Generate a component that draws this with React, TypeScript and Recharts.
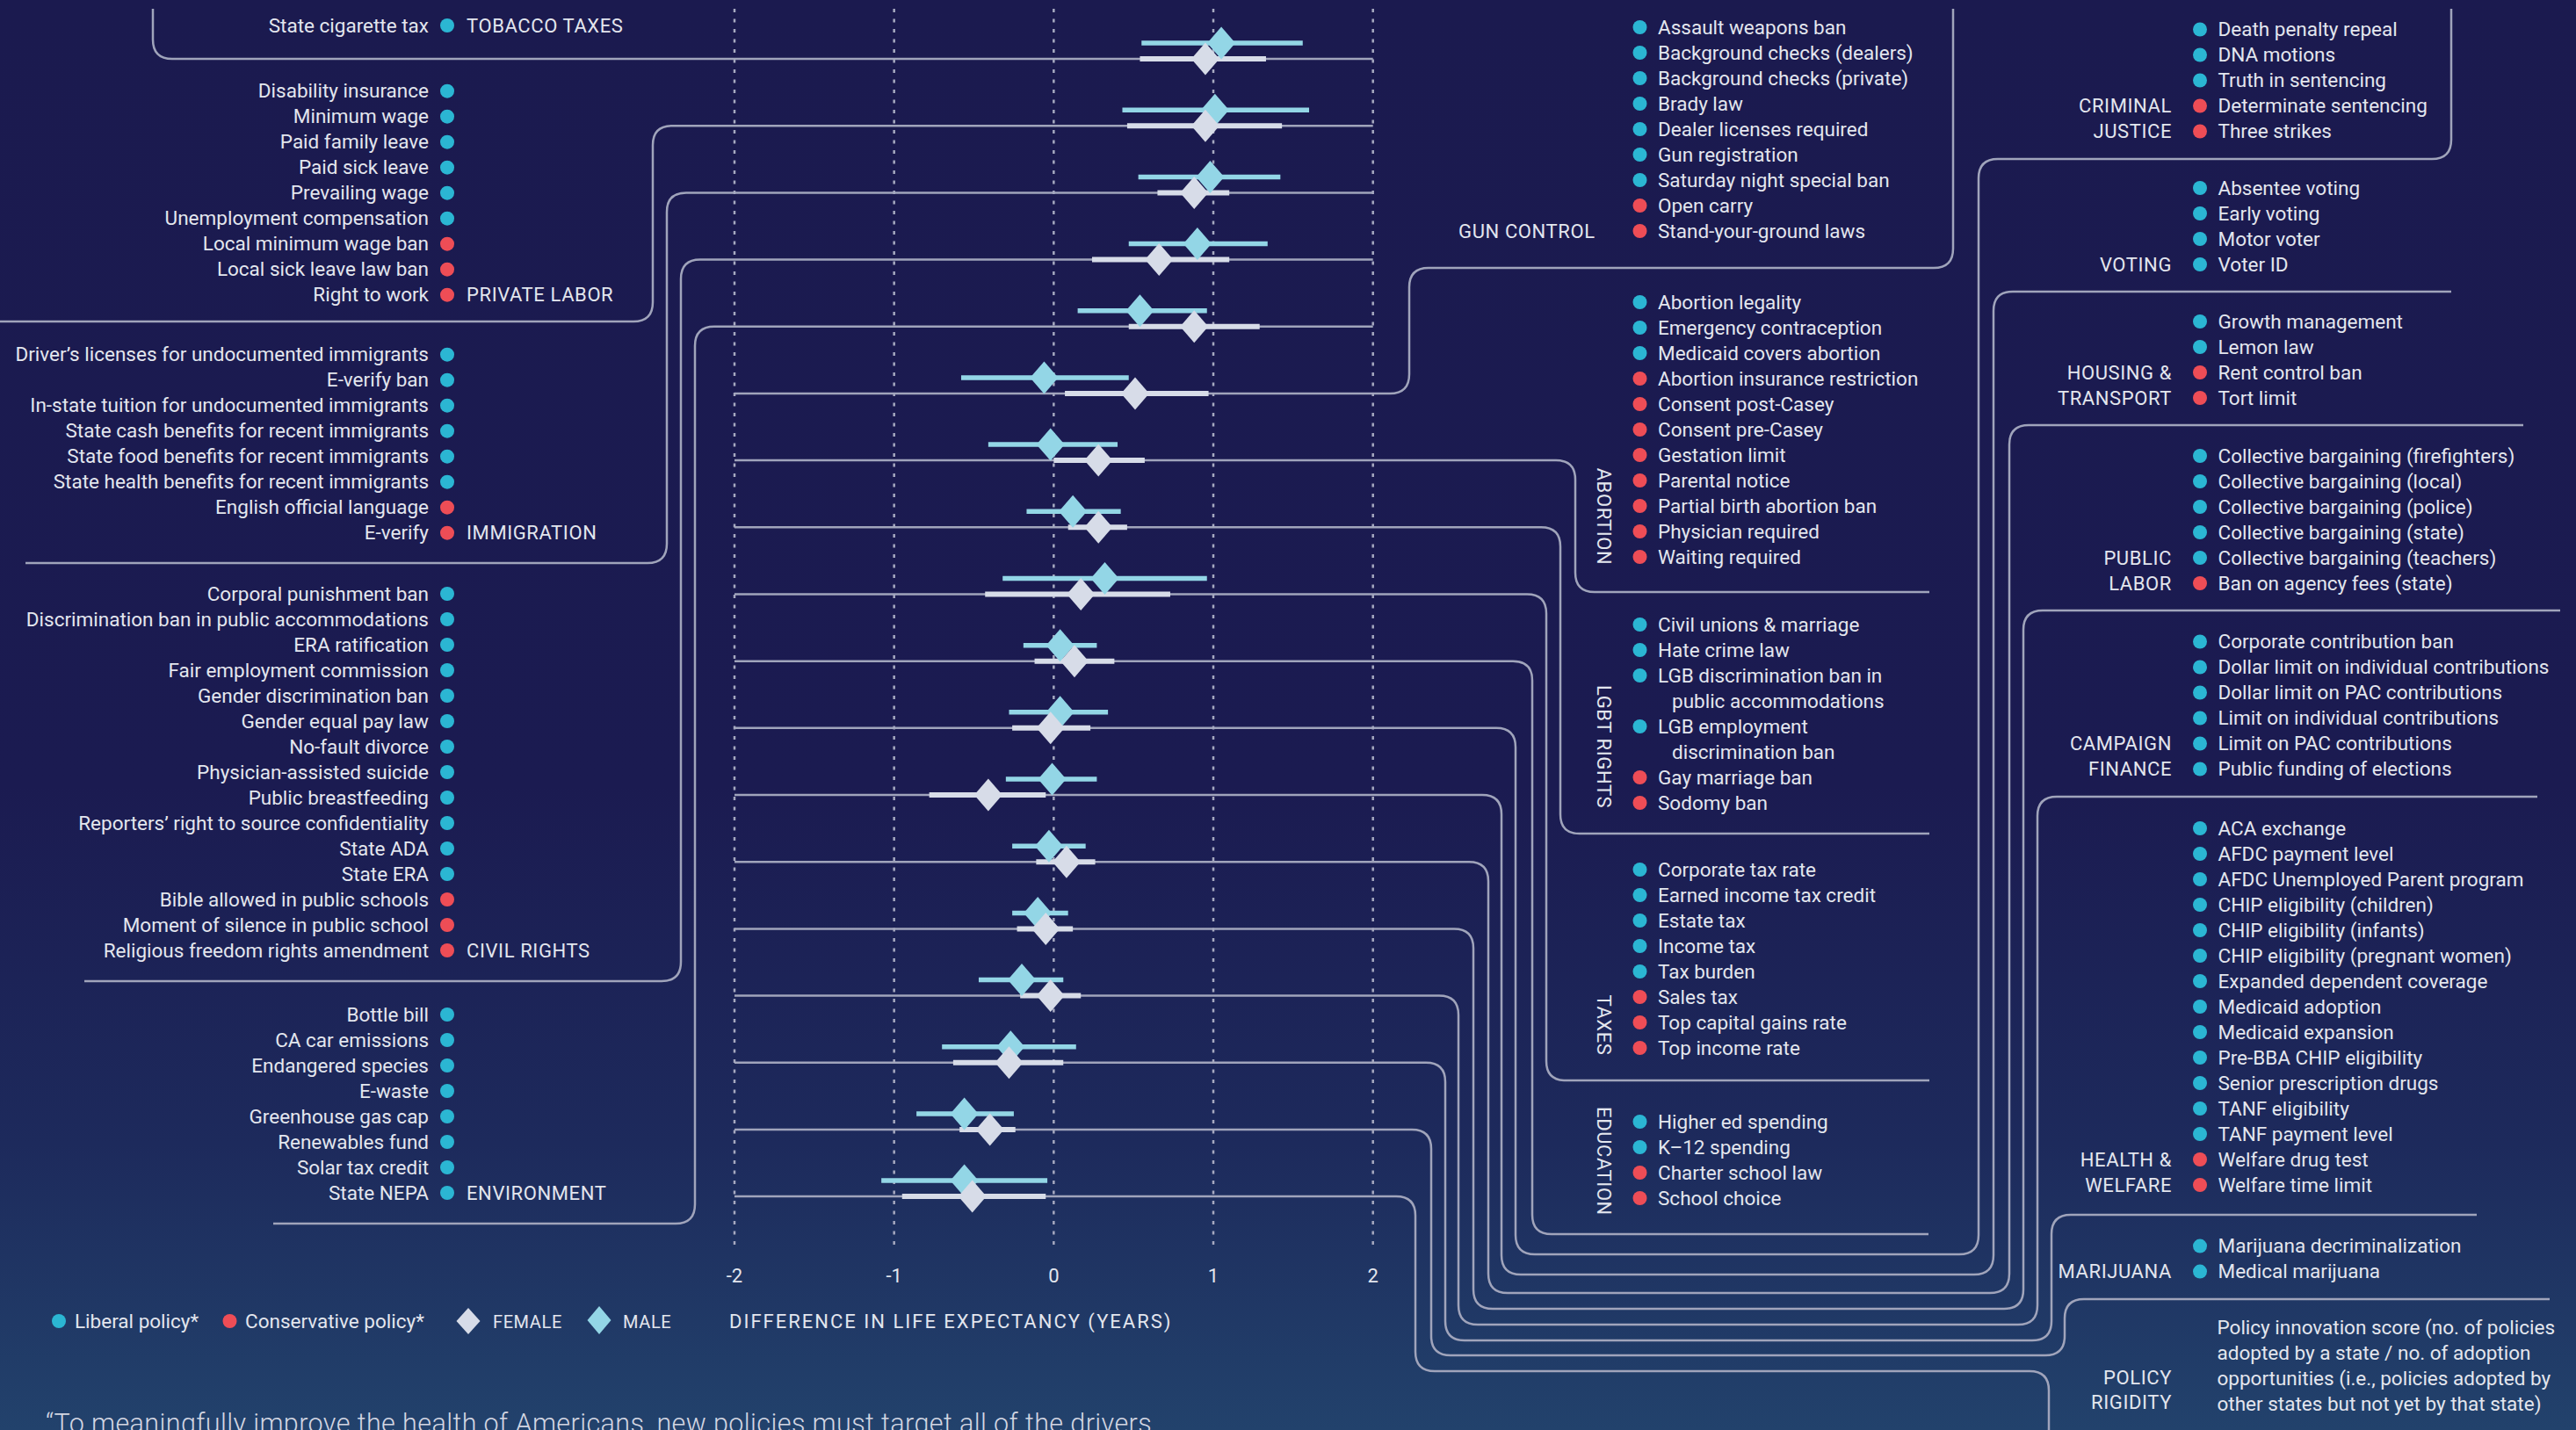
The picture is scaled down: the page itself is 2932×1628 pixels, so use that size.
import React from 'react';
import { ScatterChart, Scatter, XAxis, YAxis, CartesianGrid, ErrorBar } from 'recharts';

// ---------------- data ----------------
const CATEGORIES = [
  'Tobacco taxes', 'Private labor', 'Immigration', 'Civil rights', 'Environment',
  'Gun control', 'Abortion', 'LGBT rights', 'Taxes', 'Education',
  'Criminal justice', 'Voting', 'Housing & transport', 'Public labor', 'Campaign finance',
  'Health & welfare', 'Marijuana', 'Policy rigidity',
];
const MALE_EST = [1.05, 1.01, 0.98, 0.9, 0.54, -0.06, -0.02, 0.12, 0.32, 0.04, 0.04, -0.01, -0.03, -0.1, -0.2, -0.27, -0.56, -0.56];
const MALE_LO = [0.55, 0.43, 0.53, 0.47, 0.15, -0.58, -0.41, -0.17, -0.32, -0.19, -0.28, -0.3, -0.26, -0.26, -0.47, -0.7, -0.86, -1.08];
const MALE_HI = [1.56, 1.6, 1.42, 1.34, 0.96, 0.47, 0.4, 0.42, 0.96, 0.27, 0.34, 0.27, 0.2, 0.09, 0.06, 0.14, -0.25, -0.04];
const FEMALE_EST = [0.95, 0.95, 0.88, 0.66, 0.88, 0.51, 0.28, 0.28, 0.17, 0.13, -0.02, -0.41, 0.08, -0.05, -0.02, -0.28, -0.4, -0.51];
const FEMALE_LO = [0.54, 0.46, 0.65, 0.24, 0.47, 0.07, 0.0, 0.09, -0.43, -0.12, -0.26, -0.78, -0.11, -0.23, -0.21, -0.63, -0.59, -0.95];
const FEMALE_HI = [1.33, 1.43, 1.1, 1.1, 1.29, 0.97, 0.57, 0.46, 0.73, 0.38, 0.23, -0.05, 0.26, 0.12, 0.17, 0.06, -0.24, -0.05];
const X_TICKS = [-2, -1, 0, 1, 2];
const X_DOMAIN = [-2, 2];

// policy lists: [label, 'L' liberal | 'C' conservative]; '\n' = wrapped line
const TOBACCO = [['State cigarette tax', 'L']];
const PRIVATE_LABOR = [
  ['Disability insurance', 'L'], ['Minimum wage', 'L'], ['Paid family leave', 'L'], ['Paid sick leave', 'L'],
  ['Prevailing wage', 'L'], ['Unemployment compensation', 'L'], ['Local minimum wage ban', 'C'],
  ['Local sick leave law ban', 'C'], ['Right to work', 'C'],
];
const IMMIGRATION = [
  ['Driver\u2019s licenses for undocumented immigrants', 'L'], ['E-verify ban', 'L'],
  ['In-state tuition for undocumented immigrants', 'L'], ['State cash benefits for recent immigrants', 'L'],
  ['State food benefits for recent immigrants', 'L'], ['State health benefits for recent immigrants', 'L'],
  ['English official language', 'C'], ['E-verify', 'C'],
];
const CIVIL_RIGHTS = [
  ['Corporal punishment ban', 'L'], ['Discrimination ban in public accommodations', 'L'], ['ERA ratification', 'L'],
  ['Fair employment commission', 'L'], ['Gender discrimination ban', 'L'], ['Gender equal pay law', 'L'],
  ['No-fault divorce', 'L'], ['Physician-assisted suicide', 'L'], ['Public breastfeeding', 'L'],
  ['Reporters\u2019 right to source confidentiality', 'L'], ['State ADA', 'L'], ['State ERA', 'L'],
  ['Bible allowed in public schools', 'C'], ['Moment of silence in public school', 'C'],
  ['Religious freedom rights amendment', 'C'],
];
const ENVIRONMENT = [
  ['Bottle bill', 'L'], ['CA car emissions', 'L'], ['Endangered species', 'L'], ['E-waste', 'L'],
  ['Greenhouse gas cap', 'L'], ['Renewables fund', 'L'], ['Solar tax credit', 'L'], ['State NEPA', 'L'],
];
const GUN_CONTROL = [
  ['Assault weapons ban', 'L'], ['Background checks (dealers)', 'L'], ['Background checks (private)', 'L'],
  ['Brady law', 'L'], ['Dealer licenses required', 'L'], ['Gun registration', 'L'],
  ['Saturday night special ban', 'L'], ['Open carry', 'C'], ['Stand-your-ground laws', 'C'],
];
const ABORTION = [
  ['Abortion legality', 'L'], ['Emergency contraception', 'L'], ['Medicaid covers abortion', 'L'],
  ['Abortion insurance restriction', 'C'], ['Consent post-Casey', 'C'], ['Consent pre-Casey', 'C'],
  ['Gestation limit', 'C'], ['Parental notice', 'C'], ['Partial birth abortion ban', 'C'],
  ['Physician required', 'C'], ['Waiting required', 'C'],
];
const LGBT = [
  ['Civil unions & marriage', 'L'], ['Hate crime law', 'L'],
  ['LGB discrimination ban in\npublic accommodations', 'L'], ['LGB employment\ndiscrimination ban', 'L'],
  ['Gay marriage ban', 'C'], ['Sodomy ban', 'C'],
];
const TAXES = [
  ['Corporate tax rate', 'L'], ['Earned income tax credit', 'L'], ['Estate tax', 'L'], ['Income tax', 'L'],
  ['Tax burden', 'L'], ['Sales tax', 'C'], ['Top capital gains rate', 'C'], ['Top income rate', 'C'],
];
const EDUCATION = [
  ['Higher ed spending', 'L'], ['K\u201312 spending', 'L'], ['Charter school law', 'C'], ['School choice', 'C'],
];
const CRIMINAL_JUSTICE = [
  ['Death penalty repeal', 'L'], ['DNA motions', 'L'], ['Truth in sentencing', 'L'],
  ['Determinate sentencing', 'C'], ['Three strikes', 'C'],
];
const VOTING = [['Absentee voting', 'L'], ['Early voting', 'L'], ['Motor voter', 'L'], ['Voter ID', 'L']];
const HOUSING = [['Growth management', 'L'], ['Lemon law', 'L'], ['Rent control ban', 'C'], ['Tort limit', 'C']];
const PUBLIC_LABOR = [
  ['Collective bargaining (firefighters)', 'L'], ['Collective bargaining (local)', 'L'],
  ['Collective bargaining (police)', 'L'], ['Collective bargaining (state)', 'L'],
  ['Collective bargaining (teachers)', 'L'], ['Ban on agency fees (state)', 'C'],
];
const CAMPAIGN_FINANCE = [
  ['Corporate contribution ban', 'L'], ['Dollar limit on individual contributions', 'L'],
  ['Dollar limit on PAC contributions', 'L'], ['Limit on individual contributions', 'L'],
  ['Limit on PAC contributions', 'L'], ['Public funding of elections', 'L'],
];
const HEALTH_WELFARE = [
  ['ACA exchange', 'L'], ['AFDC payment level', 'L'], ['AFDC Unemployed Parent program', 'L'],
  ['CHIP eligibility (children)', 'L'], ['CHIP eligibility (infants)', 'L'],
  ['CHIP eligibility (pregnant women)', 'L'], ['Expanded dependent coverage', 'L'], ['Medicaid adoption', 'L'],
  ['Medicaid expansion', 'L'], ['Pre-BBA CHIP eligibility', 'L'], ['Senior prescription drugs', 'L'],
  ['TANF eligibility', 'L'], ['TANF payment level', 'L'], ['Welfare drug test', 'C'], ['Welfare time limit', 'C'],
];
const MARIJUANA = [['Marijuana decriminalization', 'L'], ['Medical marijuana', 'L']];
const POLICY_RIGIDITY_NOTE = [
  'Policy innovation score (no. of policies',
  'adopted by a state / no. of adoption',
  'opportunities (i.e., policies adopted by',
  'other states but not yet by that state)',
];
const QUOTE = '\u201cTo meaningfully improve the health of Americans, new policies must target all of the drivers';
const AXIS_TITLE = 'DIFFERENCE IN LIFE EXPECTANCY (YEARS)';

// ---------------- layout / style ----------------
const W = 2932;
const H = 1628;
const PLOT_LEFT = 836;
const PLOT_RIGHT = 1562.7;
const PLOT_TOP = 9.9;
const ROW_PX = 76.18;
const Y_DOMAIN = [-0.75, 17.75];
const PLOT_BOTTOM = PLOT_TOP + (Y_DOMAIN[1] - Y_DOMAIN[0]) * ROW_PX;
const X_AXIS_H = 40;
const MALE_SHIFT = 18 / ROW_PX;
const rowY = (i: number) => PLOT_TOP + (i - Y_DOMAIN[0]) * ROW_PX;

const LIB = '#2bb6d3';
const CON = '#ee4d56';
const MALE_C = '#93d6e6';
const FEMALE_C = '#d7dce8';
const LINE_C = '#a0a4bb';
const TEXT_C = '#e3e6ee';
const LINE_H = 29;
const DOT_R = 8;
const BASE_DY = 7.5;
const FONT = 'Roboto, sans-serif';

function roundedPath(pts: number[][], r: number) {
  let d = `M ${pts[0][0]} ${pts[0][1]}`;
  for (let i = 1; i < pts.length - 1; i++) {
    const [px, py] = pts[i - 1];
    const [cx, cy] = pts[i];
    const [nx, ny] = pts[i + 1];
    const d1 = Math.hypot(cx - px, cy - py);
    const d2 = Math.hypot(nx - cx, ny - cy);
    const rr = Math.min(r, d1 / 2, d2 / 2);
    const ax = cx - ((cx - px) / d1) * rr;
    const ay = cy - ((cy - py) / d1) * rr;
    const bx = cx + ((nx - cx) / d2) * rr;
    const by = cy + ((ny - cy) / d2) * rr;
    d += ` L ${ax} ${ay} Q ${cx} ${cy} ${bx} ${by}`;
  }
  const last = pts[pts.length - 1];
  d += ` L ${last[0]} ${last[1]}`;
  return d;
}

const CONNECTORS = [
  [[174, 10], [174, rowY(0)], [PLOT_RIGHT, rowY(0)]],
  [[0, 366], [743, 366], [743, rowY(1)], [PLOT_RIGHT, rowY(1)]],
  [[29, 641], [759, 641], [759, rowY(2)], [PLOT_RIGHT, rowY(2)]],
  [[96, 1117], [775, 1117], [775, rowY(3)], [PLOT_RIGHT, rowY(3)]],
  [[311, 1393], [791, 1393], [791, rowY(4)], [PLOT_RIGHT, rowY(4)]],
  [[PLOT_LEFT, rowY(5)], [1604, rowY(5)], [1604, 305], [2223, 305], [2223, 10]],
  [[PLOT_LEFT, rowY(6)], [1793, rowY(6)], [1793, 674], [2196, 674]],
  [[PLOT_LEFT, rowY(7)], [1776, rowY(7)], [1776, 949], [2196, 949]],
  [[PLOT_LEFT, rowY(8)], [1760, rowY(8)], [1760, 1230], [2196, 1230]],
  [[PLOT_LEFT, rowY(9)], [1744, rowY(9)], [1744, 1405], [2195, 1405]],
  [[PLOT_LEFT, rowY(10)], [1725, rowY(10)], [1725, 1428], [2252, 1428], [2252, 181], [2790, 181], [2790, 10]],
  [[PLOT_LEFT, rowY(11)], [1709, rowY(11)], [1709, 1451], [2269, 1451], [2269, 332], [2790, 332]],
  [[PLOT_LEFT, rowY(12)], [1694, rowY(12)], [1694, 1472], [2287, 1472], [2287, 484], [2872, 484]],
  [[PLOT_LEFT, rowY(13)], [1677, rowY(13)], [1677, 1490], [2303, 1490], [2303, 695], [2914, 695]],
  [[PLOT_LEFT, rowY(14)], [1660, rowY(14)], [1660, 1508], [2319, 1508], [2319, 907], [2888, 907]],
  [[PLOT_LEFT, rowY(15)], [1645, rowY(15)], [1645, 1526], [2335, 1526], [2335, 1383], [2819, 1383]],
  [[PLOT_LEFT, rowY(16)], [1629, rowY(16)], [1629, 1543], [2350, 1543], [2350, 1479], [2902, 1479]],
  [[PLOT_LEFT, rowY(17)], [1611, rowY(17)], [1611, 1561], [2332, 1561], [2332, 1700]],
];

const LEFT_PANELS = [
  { title: 'TOBACCO TAXES', items: TOBACCO, y0: 29 },
  { title: 'PRIVATE LABOR', items: PRIVATE_LABOR, y0: 103.7 },
  { title: 'IMMIGRATION', items: IMMIGRATION, y0: 403.7 },
  { title: 'CIVIL RIGHTS', items: CIVIL_RIGHTS, y0: 676 },
  { title: 'ENVIRONMENT', items: ENVIRONMENT, y0: 1155 },
];
const MID_PANELS = [
  { title: 'GUN CONTROL', items: GUN_CONTROL, y0: 31, vertical: null },
  { title: 'ABORTION', items: ABORTION, y0: 344, vertical: 588 },
  { title: 'LGBT RIGHTS', items: LGBT, y0: 711, vertical: 850 },
  { title: 'TAXES', items: TAXES, y0: 990, vertical: 1167 },
  { title: 'EDUCATION', items: EDUCATION, y0: 1277, vertical: 1322 },
];
const RIGHT_PANELS = [
  { title: ['CRIMINAL', 'JUSTICE'], items: CRIMINAL_JUSTICE, y0: 33.5 },
  { title: ['VOTING'], items: VOTING, y0: 214 },
  { title: ['HOUSING &', 'TRANSPORT'], items: HOUSING, y0: 366 },
  { title: ['PUBLIC', 'LABOR'], items: PUBLIC_LABOR, y0: 519 },
  { title: ['CAMPAIGN', 'FINANCE'], items: CAMPAIGN_FINANCE, y0: 730.5 },
  { title: ['HEALTH &', 'WELFARE'], items: HEALTH_WELFARE, y0: 943 },
  { title: ['MARIJUANA'], items: MARIJUANA, y0: 1418.6 },
];

const itemText = { fontFamily: FONT, fontSize: 22.5, fill: TEXT_C };
const capsText = { fontFamily: FONT, fontSize: 22, fill: TEXT_C, letterSpacing: 0.6 };

function Items({ items, y0, dotX, side, keyp }: any) {
  const out: any[] = [];
  let line = 0;
  items.forEach(([label, kind]: any, k: number) => {
    const parts = label.split('\n');
    const y = y0 + line * LINE_H;
    out.push(<circle key={`${keyp}d${k}`} cx={dotX} cy={y} r={DOT_R} fill={kind === 'L' ? LIB : CON} />);
    parts.forEach((p: string, j: number) => {
      const yy = y0 + (line + j) * LINE_H;
      const tx = side === 'left' ? dotX - 21 : dotX + 20.5 + (j > 0 ? 16 : 0);
      out.push(
        <text key={`${keyp}t${k}_${j}`} x={tx} y={yy + BASE_DY} textAnchor={side === 'left' ? 'end' : 'start'} style={itemText}>
          {p}
        </text>
      );
    });
    line += parts.length;
  });
  return <g>{out}</g>;
}
const lineCount = (items: any[]) => items.reduce((s, [l]) => s + l.split('\n').length, 0);

function Overlay() {
  return (
    <svg width={W} height={H} style={{ position: 'absolute', left: 0, top: 0 }}>
      <g fill="none" stroke={LINE_C} strokeWidth={2.5}>
        {CONNECTORS.map((pts, i) => (
          <path key={i} d={roundedPath(pts, 22)} />
        ))}
      </g>
      {LEFT_PANELS.map((p, i) => {
        const n = lineCount(p.items);
        return (
          <g key={`l${i}`}>
            <Items items={p.items} y0={p.y0} dotX={509} side="left" keyp={`l${i}`} />
            <text x={531} y={p.y0 + (n - 1) * LINE_H + BASE_DY} style={capsText}>{p.title}</text>
          </g>
        );
      })}
      {MID_PANELS.map((p, i) => {
        const n = lineCount(p.items);
        return (
          <g key={`m${i}`}>
            <Items items={p.items} y0={p.y0} dotX={1866.5} side="right" keyp={`m${i}`} />
            {p.vertical == null ? (
              <text x={1815.6} y={p.y0 + (n - 1) * LINE_H + BASE_DY} textAnchor="end" style={capsText}>{p.title}</text>
            ) : (
              <text
                x={1825.5}
                y={p.vertical}
                textAnchor="middle"
                dominantBaseline="central"
                transform={`rotate(90 1825.5 ${p.vertical})`}
                style={capsText}
              >
                {p.title}
              </text>
            )}
          </g>
        );
      })}
      {RIGHT_PANELS.map((p, i) => {
        const n = lineCount(p.items);
        return (
          <g key={`r${i}`}>
            <Items items={p.items} y0={p.y0} dotX={2504} side="right" keyp={`r${i}`} />
            {p.title.map((t, j) => (
              <text key={j} x={2472} y={p.y0 + (n - p.title.length + j) * LINE_H + BASE_DY} textAnchor="end" style={capsText}>
                {t}
              </text>
            ))}
          </g>
        );
      })}
      {POLICY_RIGIDITY_NOTE.map((t, j) => (
        <text key={`pr${j}`} x={2523.5} y={1511.7 + j * 28.8 + BASE_DY} style={itemText}>{t}</text>
      ))}
      {['POLICY', 'RIGIDITY'].map((t, j) => (
        <text key={`prt${j}`} x={2472} y={1568 + j * 28.5 + BASE_DY} textAnchor="end" style={capsText}>{t}</text>
      ))}
      {/* legend */}
      <circle cx={67} cy={1504} r={DOT_R} fill={LIB} />
      <text x={85} y={1504 + BASE_DY} style={itemText}>Liberal policy*</text>
      <circle cx={261.5} cy={1504} r={DOT_R} fill={CON} />
      <text x={279} y={1504 + BASE_DY} style={itemText}>Conservative policy*</text>
      <polygon points="533,1489 546.5,1504 533,1519 519.5,1504" fill={FEMALE_C} />
      <text x={561} y={1504 + BASE_DY} style={{ ...capsText, fontSize: 20 }}>FEMALE</text>
      <polygon points="682,1487 695.5,1503 682,1519 668.5,1503" fill={MALE_C} />
      <text x={709} y={1504 + BASE_DY} style={{ ...capsText, fontSize: 20 }}>MALE</text>
      <text x={830} y={1504 + 8} style={{ ...capsText, letterSpacing: 2 }}>{AXIS_TITLE}</text>
      <text x={52} y={1631} style={{ fontFamily: FONT, fontSize: 30.5, fontWeight: 300, fill: '#d3d6e2', letterSpacing: 0.4 }}>
        {QUOTE}
      </text>
    </svg>
  );
}

const Diamond = (fill: string) => (props: any) => {
  const { cx, cy } = props;
  if (cx == null || cy == null) return <g />;
  const hw = 16;
  const hh = 18.5;
  return <polygon points={`${cx},${cy - hh} ${cx + hw},${cy} ${cx},${cy + hh} ${cx - hw},${cy}`} fill={fill} />;
};

const XTick = (props: any) => {
  const { x, y, payload } = props;
  return (
    <text x={x} y={y + 41} textAnchor="middle" style={{ fontFamily: FONT, fontSize: 22, fill: TEXT_C }}>
      {String(payload.value)}
    </text>
  );
};

export default function App() {
  const maleData = CATEGORIES.map((c, i) => ({
    name: c,
    x: MALE_EST[i],
    y: i,
    err: [MALE_EST[i] - MALE_LO[i], MALE_HI[i] - MALE_EST[i]],
  }));
  const femaleData = CATEGORIES.map((c, i) => ({
    name: c,
    x: FEMALE_EST[i],
    y: i,
    err: [FEMALE_EST[i] - FEMALE_LO[i], FEMALE_HI[i] - FEMALE_EST[i]],
  }));
  return (
    <div
      style={{
        position: 'absolute',
        left: 0,
        top: 0,
        width: W,
        height: H,
        overflow: 'hidden',
        background: 'linear-gradient(180deg, #1b1a4f 0%, #1b1b51 55%, #1d2a5c 80%, #22426c 100%)',
      }}
    >
      <Overlay />
      <div style={{ position: 'absolute', left: 0, top: 0 }}>
        <ScatterChart
          width={W}
          height={H}
          margin={{ top: PLOT_TOP, left: PLOT_LEFT, right: W - PLOT_RIGHT, bottom: H - PLOT_BOTTOM - X_AXIS_H }}
        >
          <CartesianGrid horizontal={false} stroke="#a6a9c0" strokeWidth={2.5} strokeDasharray="4 7.5" />
          <XAxis
            type="number"
            dataKey="x"
            domain={X_DOMAIN}
            ticks={X_TICKS}
            height={X_AXIS_H}
            axisLine={false}
            tickLine={false}
            tickSize={0}
            tickMargin={0}
            tick={<XTick />}
            interval={0}
          />
          <YAxis yAxisId="f" type="number" dataKey="y" domain={Y_DOMAIN} reversed hide />
          <YAxis
            yAxisId="m"
            type="number"
            dataKey="y"
            domain={[Y_DOMAIN[0] + MALE_SHIFT, Y_DOMAIN[1] + MALE_SHIFT]}
            reversed
            hide
          />
          <Scatter yAxisId="m" data={maleData} fill={MALE_C} shape={Diamond(MALE_C)} isAnimationActive={false}>
            <ErrorBar dataKey="err" direction="x" width={0} stroke={MALE_C} strokeWidth={5.5} isAnimationActive={false} />
          </Scatter>
          <Scatter yAxisId="f" data={femaleData} fill={FEMALE_C} shape={Diamond(FEMALE_C)} isAnimationActive={false}>
            <ErrorBar dataKey="err" direction="x" width={0} stroke={FEMALE_C} strokeWidth={6} isAnimationActive={false} />
          </Scatter>
        </ScatterChart>
      </div>
    </div>
  );
}
